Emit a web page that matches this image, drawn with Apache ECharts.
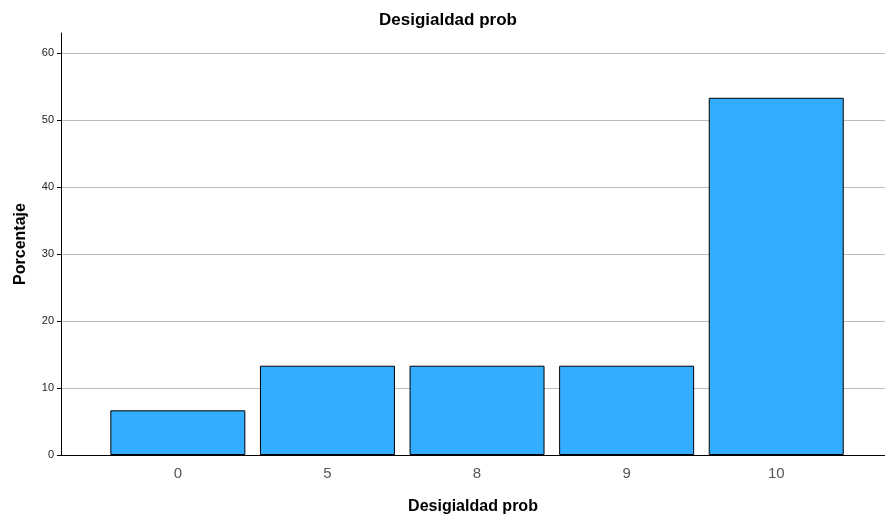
<!DOCTYPE html>
<html>
<head>
<meta charset="utf-8">
<script src="https://cdn.jsdelivr.net/npm/echarts@6/dist/echarts.min.js"></script>
<style>
html,body{margin:0;padding:0;background:#fff;}
#chart{width:885px;height:516px;}
</style>
</head>
<body>
<div id="chart"></div>
<script>
var categories = ['0', '5', '8', '9', '10'];
var percentages = [6.67, 13.33, 13.33, 13.33, 53.33];
var yTicks = [0, 10, 20, 30, 40, 50, 60];

var chart = echarts.init(document.getElementById('chart'), null, {renderer: 'canvas'});
var FONT = '"Liberation Sans", Arial, sans-serif';
chart.setOption({
  animation: false,
  backgroundColor: '#ffffff',
  title: {
    text: 'Desigialdad prob',
    left: 374,
    top: 7,
    textStyle: {fontFamily: FONT, fontSize: 17, fontWeight: 'bold', color: '#000'}
  },
  grid: {left: 61, right: 0, top: 33, bottom: 61, containLabel: false, outerBoundsMode: 'none'},
  xAxis: {
    type: 'value',
    min: -0.781,
    max: 4.727,
    name: 'Desigialdad prob',
    nameLocation: 'middle',
    nameGap: 44,
    nameTextStyle: {fontFamily: FONT, fontSize: 16, fontWeight: 'bold', color: '#000'},
    axisLine: {show: true, onZero: false, lineStyle: {color: '#000', width: 1}},
    axisTick: {show: false},
    splitLine: {show: false},
    axisLabel: {
      customValues: [0, 1, 2, 3, 4],
      formatter: function (v) { return categories[Math.round(v)]; },
      fontFamily: FONT, fontSize: 15, color: '#555', margin: 11
    }
  },
  yAxis: {
    type: 'value',
    min: 0,
    max: 63,
    interval: 10,
    name: 'Porcentaje',
    nameLocation: 'middle',
    nameGap: 32,
    nameRotate: 90,
    nameTextStyle: {fontFamily: FONT, fontSize: 16, fontWeight: 'bold', color: '#000'},
    axisLine: {show: true, onZero: false, lineStyle: {color: '#000', width: 1}},
    axisTick: {show: true, length: 4, lineStyle: {color: '#000'}, customValues: yTicks},
    axisLabel: {customValues: yTicks, fontFamily: FONT, fontSize: 11, color: '#222', margin: 7},
    splitLine: {show: true, showMaxLine: true, lineStyle: {color: '#bcbcbc', width: 1}}
  },
  series: [{
    type: 'bar',
    barWidth: 135,
    data: percentages.map(function (v, i) { return [i, v]; }),
    itemStyle: {color: '#33adff', borderColor: '#000', borderWidth: 1}
  }]
});
</script>
</body>
</html>
